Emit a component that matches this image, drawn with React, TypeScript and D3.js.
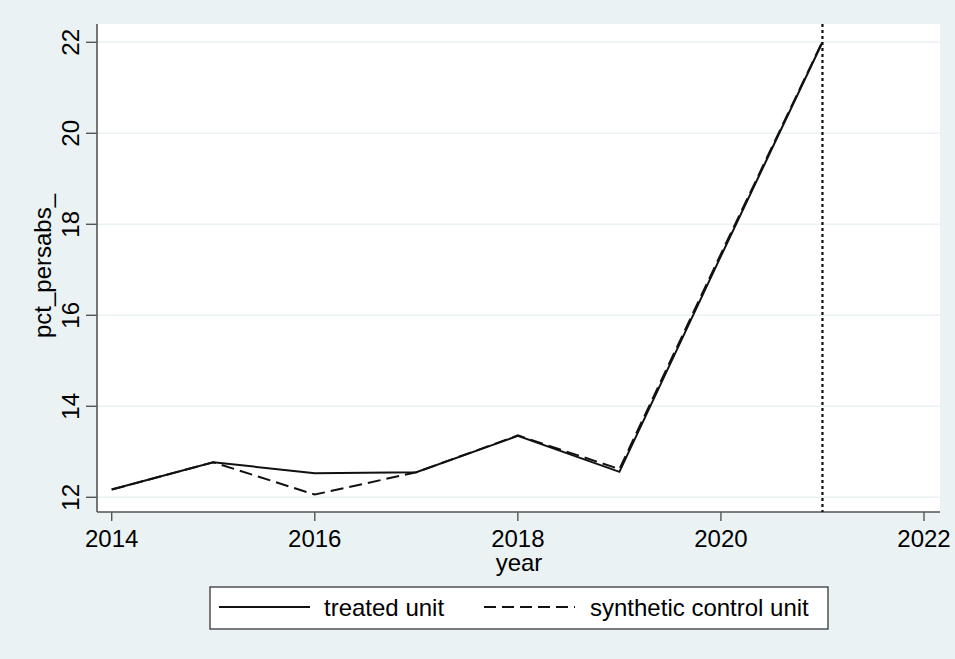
import React from "react";
import * as d3 from "d3";

const years = [2014, 2015, 2016, 2017, 2018, 2019, 2020, 2021];
const treated = [12.17, 12.77, 12.53, 12.55, 13.35, 12.56, 17.3, 22.0];
const synthetic = [12.17, 12.77, 12.06, 12.55, 13.36, 12.62, 17.35, 22.02];
const xTicks = [2014, 2016, 2018, 2020, 2022];
const yTicks = [12, 14, 16, 18, 20, 22];
const treatmentYear = 2021;
const legendLabels = ["treated unit", "synthetic control unit"];

const W = 955;
const H = 659;
const plot = { left: 97, right: 940, top: 24, bottom: 512 };
const FONT = "'Liberation Sans', Arial, sans-serif";
const FS = 24;

export default function App() {
  const x = d3.scaleLinear().domain([2014, 2022]).range([111.7, 924]);
  const y = d3.scaleLinear().domain([12, 22]).range([497.3, 42.3]);
  const line = d3
    .line<number>()
    .x((_, i) => x(years[i]))
    .y((d) => y(d));

  return (
    <svg
      width={W}
      height={H}
      style={{ position: "absolute", left: 0, top: 0, display: "block" }}
      fontFamily={FONT}
    >
      <rect x={0} y={0} width={W} height={H} fill="#eaf2f3" />
      <rect
        x={plot.left}
        y={plot.top}
        width={plot.right - plot.left}
        height={plot.bottom - plot.top}
        fill="#ffffff"
      />
      {yTicks.map((t) => (
        <line
          key={"g" + t}
          x1={plot.left}
          x2={plot.right}
          y1={y(t)}
          y2={y(t)}
          stroke="#eaf2f3"
          strokeWidth={1.5}
        />
      ))}
      <line x1={plot.left} x2={plot.left} y1={plot.top} y2={plot.bottom} stroke="#555" strokeWidth={1.6} />
      <line x1={plot.left} x2={plot.right} y1={plot.bottom} y2={plot.bottom} stroke="#555" strokeWidth={1.6} />
      {yTicks.map((t) => (
        <g key={"y" + t}>
          <line x1={86} x2={plot.left} y1={y(t)} y2={y(t)} stroke="#555" strokeWidth={1.4} />
          <text
            transform={`translate(78.5,${y(t)}) rotate(-90)`}
            textAnchor="middle"
            fontSize={FS}
            fill="#000"
          >
            {t}
          </text>
        </g>
      ))}
      {xTicks.map((t) => (
        <g key={"x" + t}>
          <line x1={x(t)} x2={x(t)} y1={plot.bottom} y2={plot.bottom + 9} stroke="#555" strokeWidth={1.4} />
          <text x={x(t)} y={547} textAnchor="middle" fontSize={FS} fill="#000">
            {t}
          </text>
        </g>
      ))}
      <text x={519} y={571} textAnchor="middle" fontSize={FS} fill="#000">
        year
      </text>
      <text
        transform={`translate(51,266) rotate(-90)`}
        textAnchor="middle"
        fontSize={FS}
        fill="#000"
      >
        pct_persabs_
      </text>
      <line
        x1={x(treatmentYear)}
        x2={x(treatmentYear)}
        y1={plot.top}
        y2={plot.bottom}
        stroke="#111"
        strokeWidth={2.2}
        strokeDasharray="3,3"
      />
      <path d={line(treated) || ""} fill="none" stroke="#111" strokeWidth={2} />
      <path d={line(synthetic) || ""} fill="none" stroke="#111" strokeWidth={2} strokeDasharray="13,6" />
      <rect x={210} y={587} width={618} height={42} fill="#fff" stroke="#444" strokeWidth={1.4} />
      <line x1={219} x2={310} y1={607} y2={607} stroke="#111" strokeWidth={2} />
      <text x={324} y={616} fontSize={FS} fill="#000">
        {legendLabels[0]}
      </text>
      <line x1={484} x2={575} y1={607} y2={607} stroke="#111" strokeWidth={2} strokeDasharray="12,6" />
      <text x={590} y={616} fontSize={FS} fill="#000">
        {legendLabels[1]}
      </text>
    </svg>
  );
}
